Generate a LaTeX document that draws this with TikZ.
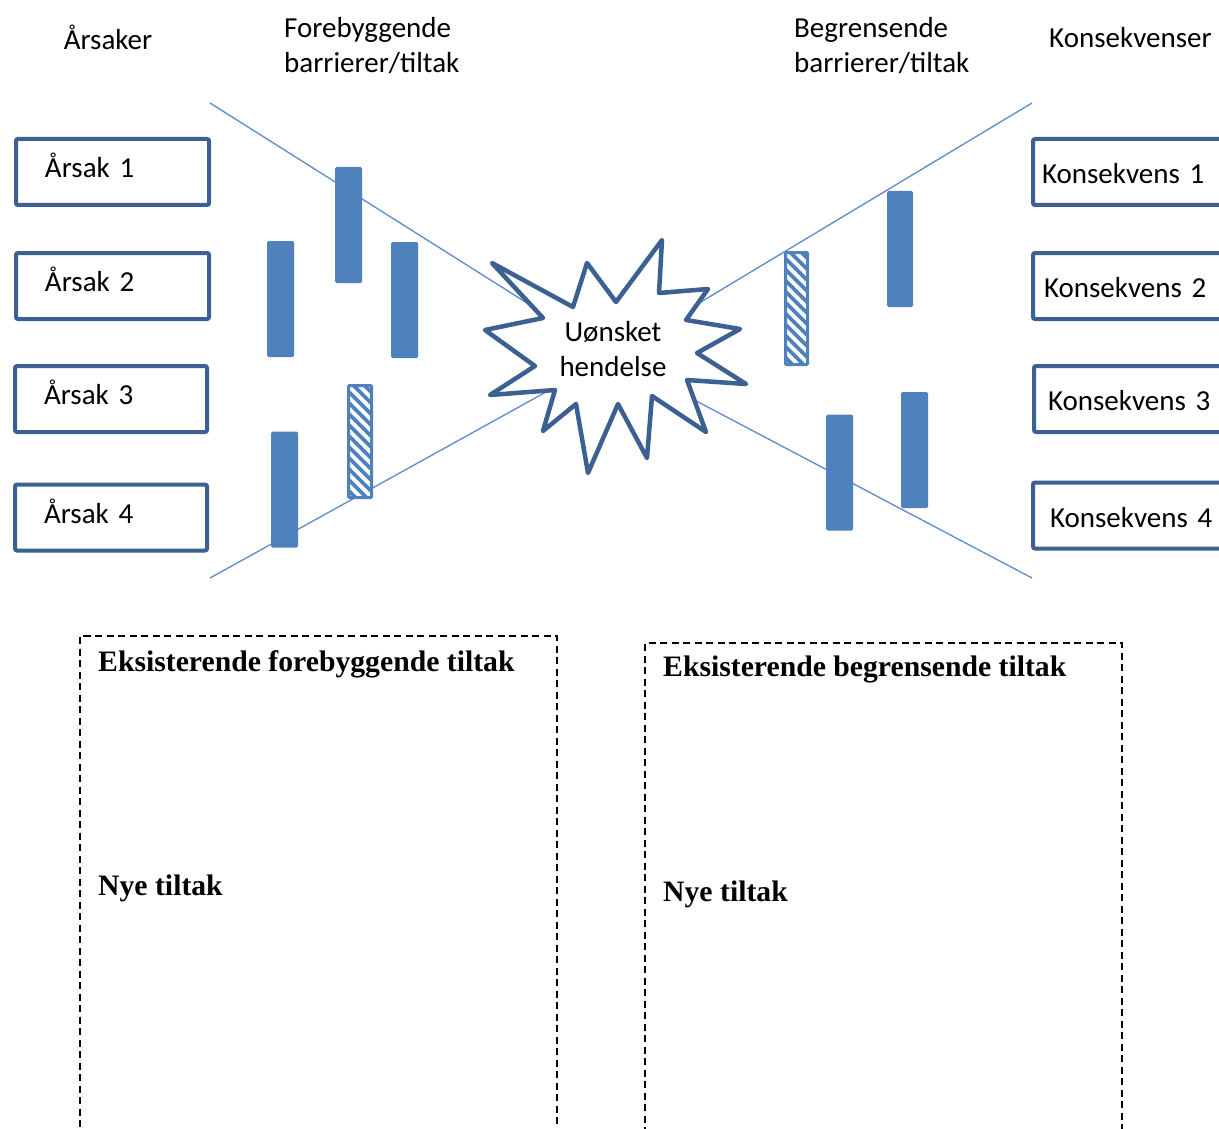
\documentclass[tikz,border=0pt]{standalone}
\usepackage{fontspec}
\setmainfont{Carlito}
\newfontfamily\serifb{Liberation Serif}
\usetikzlibrary{calc}
\definecolor{boxblue}{RGB}{59,96,145}
\definecolor{barblue}{RGB}{79,129,189}
\definecolor{lineblue}{RGB}{91,139,205}
\begin{document}
\begin{tikzpicture}[x=1pt,y=-1pt,
  every node/.style={font=\fontsize{29}{35}\selectfont},
  headtext/.style={inner sep=0pt, align=left},
  causebox/.style={draw=boxblue, line width=4pt, rounded corners=2pt, anchor=west,
    outer sep=0pt, minimum width=193pt, minimum height=66pt, inner xsep=29pt, inner ysep=0pt,
    text width=135pt, text height=21pt, text depth=10pt, align=left},
  consbox/.style={draw=boxblue, line width=4pt, rounded corners=2pt, anchor=west,
    outer sep=0pt, minimum height=66pt, inner xsep=#1, inner ysep=0pt, text width=180pt,
    text height=24pt, text depth=1pt, align=left},
  barrier/.style={fill=barblue, rounded corners=1.5pt, minimum width=27pt,
    minimum height=116pt, inner sep=0pt},
  hatched/.style={draw=barblue, line width=3pt, fill=white, rounded corners=1pt,
    minimum width=23pt, minimum height=112pt, inner sep=0pt,
    path picture={\foreach \k in {-160,-149,...,160}
      \draw[barblue, line width=3.8pt] ([yshift=\k pt]path picture bounding box.north west) -- ++(80,80);}},
  crossline/.style={draw=lineblue, line width=1.3pt},
  startext/.style={inner sep=0pt, align=center},
  dbox/.style={draw=black, line width=1.4pt, dash pattern=on 7pt off 4.5pt,
    minimum width=477pt, minimum height=540pt, anchor=north west, inner sep=0pt, outer sep=0pt},
  boldtext/.style={font=\fontsize{29.7}{35}\serifb\bfseries, inner sep=0pt, anchor=west}
]
\useasboundingbox (0,0) rectangle (1219,1129);
\clip (0,0) rectangle (1219,1129);
\fill[white] (0,0) rectangle (1219,1129);

% headers
\node[headtext] (hcause) at (108,37) {Årsaker};
\node[headtext, anchor=west] (hprev) at (284,46) {Forebyggende\\barrierer/tiltak};
\node[headtext, anchor=west] (hlim) at (794,46) {Begrensende\\barrierer/tiltak};
\node[headtext, anchor=west] (hcons) at (1049,38) {Konsekvenser};

% cause boxes
\node[causebox] (a1) at (16,172) {Årsak 1};
\node[causebox] (a2) at (16,286) {Årsak 2};
\node[causebox, minimum width=192pt, text width=134pt] (a3) at (15,399) {Årsak 3};
\node[causebox, minimum width=192pt, text width=134pt] (a4) at (15,517.5) {Årsak 4};

% consequence boxes
\node[consbox=9pt] (k1) at (1033,172) {Konsekvens 1};
\node[consbox=11pt] (k2) at (1033,286) {Konsekvens 2};
\node[consbox=14pt] (k3) at (1034,399) {Konsekvens 3};
\node[consbox=17pt] (k4) at (1033,515.5) {Konsekvens 4};

% bow-tie lines
\coordinate (lt) at (210,103);
\coordinate (lb) at (210,578);
\coordinate (rt) at (1032,103);
\coordinate (rb) at (1032,578);
\coordinate (c) at (611,356);
\draw[crossline] (lt) -- (c);
\draw[crossline] (lb) -- (c);
\draw[crossline] (rt) -- (c);
\draw[crossline] (rb) -- (c);

% barriers
\node[barrier] (b1) at (348.5,225) {};
\node[barrier] (b2) at (280.5,299) {};
\node[barrier] (b3) at (404.5,300) {};
\node[barrier] (b4) at (284.5,489.5) {};
\node[hatched] (h1) at (360,441.5) {};
\node[hatched, minimum width=22pt] (h2) at (796.5,308.5) {};
\node[barrier, minimum width=26pt] (b5) at (900,249) {};
\node[barrier] (b6) at (839.5,472.5) {};
\node[barrier] (b7) at (914.5,450) {};

% star (unwanted event)
\draw[draw=boxblue, fill=white, line width=4.5pt, line join=round]
  (492,263) -- (573,307) -- (587,263) -- (616,302) -- (662,240) -- (659,293)
  -- (708,289) -- (686,320) -- (740,329) -- (697,353) -- (746,384) -- (687,380)
  -- (706,432) -- (652,396) -- (647,458) -- (618,404) -- (588,473) -- (576,404)
  -- (543,431) -- (555,390) -- (490,395) -- (535,366) -- (485,330) -- (543,318) -- cycle;
\node[startext] (ev) at (613,349) {Uønsket\\hendelse};

% dashed boxes
\node[dbox] (pre) at (80,636) {};
\node[dbox] (lim) at (645,643) {};
\node[boldtext] (pret) at (98,664) {Eksisterende forebyggende tiltak};
\node[boldtext] (pren) at (98,888) {Nye tiltak};
\node[boldtext] (limt) at (663,669) {Eksisterende begrensende tiltak};
\node[boldtext] (limn) at (663,894) {Nye tiltak};
\end{tikzpicture}
\end{document}
